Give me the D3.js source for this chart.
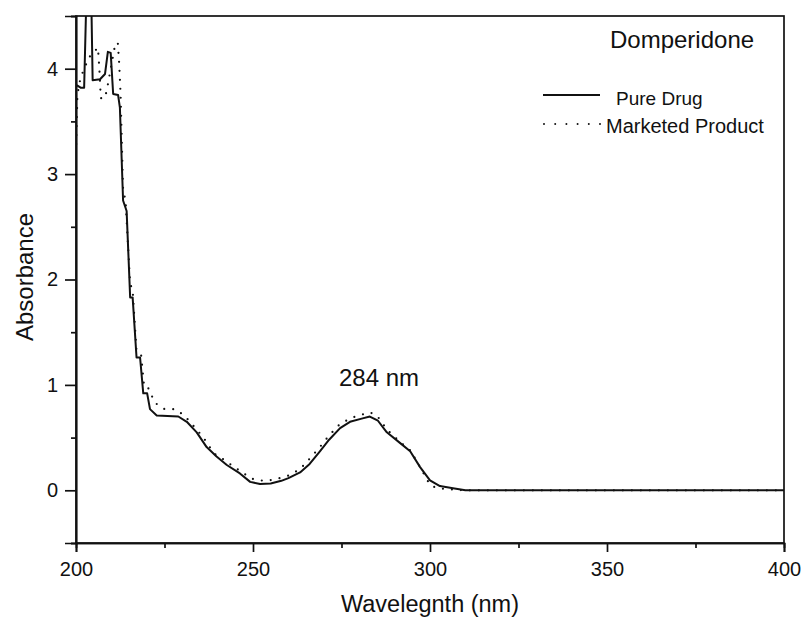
<!DOCTYPE html>
<html><head><meta charset="utf-8">
<script src="https://cdn.jsdelivr.net/npm/d3@7"></script>
<style>body{margin:0;background:#fff}svg{display:block}text{font-family:"Liberation Sans",Arial,sans-serif;fill:#111}</style>
</head><body><svg id="c" width="802" height="617"></svg>
<script>
// Data (wavelength nm, absorbance)
const pureWl  = [200,200.4,201.3,202.3,202.8,203.2,204.0,204.4,204.7,206.8,208.2,209.0,209.8,210.5,211.9,212.4,213.3,214.3,215.3,216.0,217.1,218.1,219.0,220.1,220.9,222.8,228.9,231.3,234.1,236.9,239.7,242.6,246.3,249.2,252.0,255,258,260,263.3,266,268.9,271.5,274.6,277.4,280.7,283,285.3,287.8,291.5,294.4,297.2,300,302.8,306.5,310,350,400];
const pureAbs = [3.84,3.84,3.82,3.82,4.5,4.85,4.85,4.5,3.89,3.9,3.95,4.16,4.15,3.76,3.75,3.63,2.75,2.65,1.83,1.83,1.26,1.26,0.92,0.92,0.77,0.71,0.70,0.65,0.55,0.41,0.32,0.24,0.16,0.08,0.06,0.065,0.09,0.115,0.17,0.25,0.37,0.48,0.59,0.65,0.68,0.70,0.66,0.55,0.45,0.37,0.22,0.095,0.04,0.02,0.0,0.0,0.0];
const mktWl   = [200,200.4,201.3,202.5,203.5,206.2,206.6,207.0,208.2,209.0,210.9,211.8,212.2,212.6,213.3,214.0,215.3,216.0,217.1,218.4,219.2,220.0,222.3,225,228,230.6,234,236,239,241.8,244.3,249.6,253,256,260,263.3,266,268.9,271.5,274.6,278,281,283,285,288,291.5,294.4,297.2,300,302,305,310,350,400];
const mktAbs  = [3.2,3.75,3.92,4.01,4.1,4.2,4.0,3.72,3.72,3.85,4.2,4.25,4.05,3.75,2.85,2.75,1.96,1.9,1.32,1.28,1.0,1.0,0.83,0.77,0.77,0.71,0.58,0.50,0.35,0.29,0.23,0.11,0.09,0.10,0.14,0.20,0.30,0.41,0.52,0.63,0.69,0.72,0.74,0.71,0.57,0.46,0.38,0.22,0.05,0.02,0.01,0.0,0.0,0.0];
const xTicks = [200,250,300,350,400];
const xMinor = [225,275,325,375];
const yTicks = [0,1,2,3,4];
const yMinor = [-0.5,0.5,1.5,2.5,3.5,4.5];
const seriesNames = ["Pure Drug","Marketed Product"];

const L=76,R=784,T=16,B=543;
const svg=d3.select("#c");
const x=d3.scaleLinear().domain([200,400]).range([L,R]);
const y=d3.scaleLinear().domain([-0.5,4.5]).range([B,T]);

svg.append("clipPath").attr("id","clip").append("rect").attr("x",L).attr("y",T).attr("width",R-L).attr("height",B-T);

const line=d3.line().x(d=>x(d[0])).y(d=>y(d[1]));
const pure=pureWl.map((w,i)=>[w,pureAbs[i]]);
const mkt=mktWl.map((w,i)=>[w,mktAbs[i]]);
const g=svg.append("g").attr("clip-path","url(#clip)");
g.append("path").datum(mkt).attr("d",line).attr("fill","none").attr("stroke","#111").attr("stroke-width",2.2).attr("stroke-linecap","round").attr("stroke-dasharray","0,9");
g.append("path").datum(pure).attr("d",line).attr("fill","none").attr("stroke","#111").attr("stroke-width",2).attr("stroke-linejoin","round");

// frame
svg.append("rect").attr("x",L).attr("y",T).attr("width",R-L).attr("height",B-T).attr("fill","none").attr("stroke","#111").attr("stroke-width",1.7);

// axes
const xa=svg.append("g").attr("transform",`translate(0,${B})`).call(d3.axisBottom(x).tickValues(xTicks).tickSize(9).tickPadding(10).tickFormat(d3.format("d")));
const xm=svg.append("g").attr("transform",`translate(0,${B})`).call(d3.axisBottom(x).tickValues(xMinor).tickSize(5).tickFormat(""));
const ya=svg.append("g").attr("transform",`translate(${L},0)`).call(d3.axisLeft(y).tickValues(yTicks).tickSize(11).tickPadding(7).tickFormat(d3.format("d")));
const ym=svg.append("g").attr("transform",`translate(${L},0)`).call(d3.axisLeft(y).tickValues(yMinor).tickSize(5).tickFormat(""));
[xa,xm,ya,ym].forEach(a=>{a.select(".domain").attr("stroke","#111").attr("stroke-width",1.7);a.selectAll("line").attr("stroke","#111").attr("stroke-width",1.7);a.selectAll("text").style("font-size","20px").attr("fill","#111");});

svg.append("text").attr("x",(L+R)/2).attr("y",612).attr("text-anchor","middle").style("font-size","23.5px").text("Wavelegnth (nm)");
svg.append("text").attr("transform",`translate(33,277) rotate(-90)`).attr("text-anchor","middle").style("font-size","24px").text("Absorbance");

svg.append("text").attr("x",610).attr("y",48).style("font-size","24px").text("Domperidone");
svg.append("text").attr("x",379).attr("y",386).attr("text-anchor","middle").style("font-size","24px").text("284 nm");

// legend
svg.append("line").attr("x1",543).attr("x2",600).attr("y1",95).attr("y2",95).attr("stroke","#111").attr("stroke-width",2);
svg.append("text").attr("x",616).attr("y",105).style("font-size","19px").text(seriesNames[0]);
svg.append("line").attr("x1",544).attr("x2",600).attr("y1",124).attr("y2",124).attr("stroke","#111").attr("stroke-width",2).attr("stroke-linecap","round").attr("stroke-dasharray","0,11.2");
svg.append("text").attr("x",606).attr("y",133).style("font-size","20px").text(seriesNames[1]);
</script></body></html>
